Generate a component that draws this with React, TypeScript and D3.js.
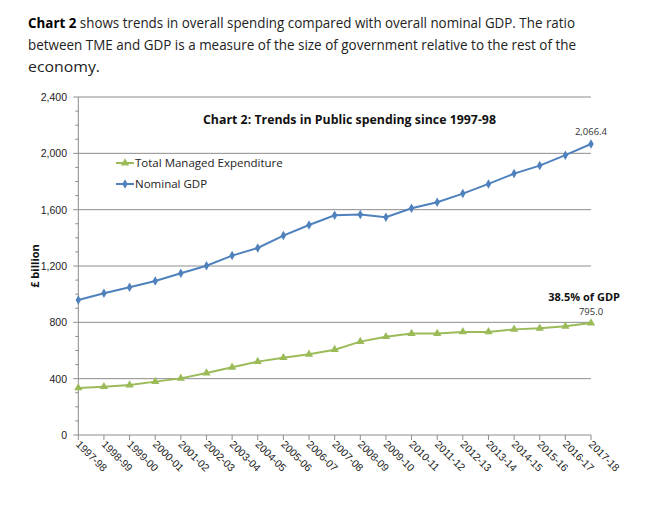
import React from "react";
import * as d3 from "d3";

const categories = ["1997-98","1998-99","1999-00","2000-01","2001-02","2002-03","2003-04","2004-05","2005-06","2006-07","2007-08","2008-09","2009-10","2010-11","2011-12","2012-13","2013-14","2014-15","2015-16","2016-17","2017-18"];
const gdp = [959,1006,1049,1094,1148,1202,1274,1328,1416,1491,1560,1565,1546,1610,1653,1714,1783,1856,1913,1987,2066.4];
const tme = [334,343,355,379,402,440,481,521,549,573,606,663,698,720,720,732,732,750,758,772,795];
const yTicks = [0,400,800,1200,1600,2000,2400];
const minorTicks = d3.range(0, 2401, 100);

const BLUE = "#4F81BD";
const GREEN = "#9BBB59";
const GRID = "#8c8c8c";
const FONT = "'Open Sans', 'Noto Sans', sans-serif";

export default function App() {
  const x = d3.scalePoint<string>().domain(categories).range([78.3, 591]).padding(0);
  const y = d3.scaleLinear().domain([0, 2400]).range([435, 97]);
  const line = d3.line<number>().x((_, i) => x(categories[i])!).y(d => y(d));
  const diamond = d3.symbol().type(d3.symbolDiamond).size(26)()!;
  const tri = d3.symbol().type(d3.symbolTriangle).size(30)()!;
  const x0 = x.range()[0];
  const x1 = x.range()[1];
  return (
    <svg width={658} height={508} style={{ position: "absolute", left: 0, top: 0, background: "#fff" }} fontFamily={FONT}>
      <text x={28} y={28} fontSize={14.5} fill="#222" textLength={547} lengthAdjust="spacingAndGlyphs">
        <tspan fontWeight="bold" fill="#000">Chart 2</tspan> shows trends in overall spending compared with overall nominal GDP. The ratio
      </text>
      <text x={28} y={50} fontSize={14.5} fill="#222" textLength={548} lengthAdjust="spacingAndGlyphs">
        between TME and GDP is a measure of the size of government relative to the rest of the
      </text>
      <text x={28} y={72} fontSize={14.5} fill="#222" textLength={72} lengthAdjust="spacingAndGlyphs">economy.</text>

      {/* gridlines */}
      {yTicks.filter(t => t > 0).map(t => (
        <line key={t} x1={x0 - 5} x2={x1} y1={y(t)} y2={y(t)} stroke={GRID} strokeWidth={1} />
      ))}
      {minorTicks.filter(t => t % 400 !== 0).map(t => (
        <line key={"m" + t} x1={x0 - 3} x2={x0} y1={y(t)} y2={y(t)} stroke={GRID} strokeWidth={1} />
      ))}
      {/* axes */}
      <line x1={x0} x2={x0} y1={y(2400)} y2={y(0)} stroke={GRID} />
      <line x1={x0 - 5} x2={x1} y1={y(0)} y2={y(0)} stroke={GRID} />
      {categories.map(c => (
        <line key={"xt" + c} x1={x(c)} x2={x(c)} y1={y(0)} y2={y(0) + 5} stroke={GRID} />
      ))}
      {yTicks.map(t => (
        <text key={"yl" + t} x={67} y={y(t) + 4} fontSize={10.5} textAnchor="end" fill="#222" fontFamily="'Liberation Sans', Arial, sans-serif">{d3.format(",")(t)}</text>
      ))}
      {categories.map(c => (
        <text key={"xl" + c} transform={`translate(${x(c)! - 3},${y(0) + 10}) rotate(45)`} fontSize={10.5} fill="#222" fontFamily="'Liberation Sans', Arial, sans-serif">{c}</text>
      ))}
      <text transform="translate(39,266) rotate(-90)" fontSize={11} fontWeight="bold" textAnchor="middle" fill="#111">£ billion</text>

      <text x={349.5} y={124} fontSize={12.5} fontWeight="bold" textAnchor="middle" fill="#111" textLength={293} lengthAdjust="spacingAndGlyphs">Chart 2: Trends in Public spending since 1997-98</text>

      {/* series */}
      <path d={line(gdp)!} fill="none" stroke={BLUE} strokeWidth={2} />
      {gdp.map((v, i) => (
        <path key={"g" + i} d={diamond} transform={`translate(${x(categories[i])},${y(v)})`} fill={BLUE} />
      ))}
      <path d={line(tme)!} fill="none" stroke={GREEN} strokeWidth={2} />
      {tme.map((v, i) => (
        <path key={"t" + i} d={tri} transform={`translate(${x(categories[i])},${y(v)})`} fill={GREEN} />
      ))}

      {/* labels */}
      <text x={x1} y={y(gdp[gdp.length - 1]) - 9} fontSize={9.5} textAnchor="middle" fill="#333">{d3.format(",.1f")(gdp[gdp.length - 1])}</text>
      <text x={x1} y={y(tme[tme.length - 1]) - 8} fontSize={9.5} textAnchor="middle" fill="#333">{d3.format(",.1f")(tme[tme.length - 1])}</text>
      <text x={620} y={301} fontSize={11} fontWeight="bold" textAnchor="end" fill="#111">38.5% of GDP</text>

      {/* legend */}
      <line x1={116} x2={134} y1={163} y2={163} stroke={GREEN} strokeWidth={2} />
      <path d={tri} transform="translate(125,163)" fill={GREEN} />
      <text x={135} y={167} fontSize={11.5} fill="#222">Total Managed Expenditure</text>
      <line x1={116} x2={134} y1={184} y2={184} stroke={BLUE} strokeWidth={2} />
      <path d={diamond} transform="translate(125,184)" fill={BLUE} />
      <text x={135} y={188} fontSize={11.5} fill="#222">Nominal GDP</text>
    </svg>
  );
}
